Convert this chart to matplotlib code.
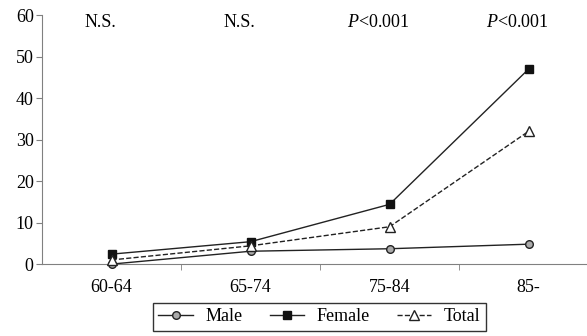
import matplotlib.pyplot as plt
import numpy as np

plt.rcParams['font.family'] = ['Liberation Serif', 'DejaVu Serif']
plt.rcParams['font.size'] = 13
plt.rcParams['mathtext.fontset'] = 'custom'
plt.rcParams['mathtext.rm'] = 'Liberation Serif'
plt.rcParams['mathtext.it'] = 'Liberation Serif:italic'

groups = ['60-64', '65-74', '75-84', '85-']
male = [0.0, 3.1, 3.7, 4.8]
female = [2.4, 5.4, 14.4, 47.0]
total = [1.0, 4.4, 9.0, 32.0]
sig = ['N.S.', 'N.S.', '$\\mathit{P}$<0.001', '$\\mathit{P}$<0.001']

fig = plt.figure(figsize=(5.87, 3.36), dpi=100)
ax = fig.add_axes([0.0716, 0.214, 1 - 0.0716, 0.741])

x = np.arange(len(groups))
l1, = ax.plot(x, male, '-', color='#222222', lw=1, marker='o', ms=5.5,
              mfc='#aaaaaa', mec='#222222', mew=1, clip_on=False, zorder=3)
l2, = ax.plot(x, female, '-', color='#222222', lw=1, marker='s', ms=6,
              mfc='#111111', mec='#111111', clip_on=False, zorder=3)
l3, = ax.plot(x, total, '--', color='#222222', lw=1, marker='^', ms=7,
              mfc='white', mec='#222222', mew=1, clip_on=False, zorder=3)

for i, s in enumerate(sig):
    ax.text(i - 0.08, 58.3, s, ha='center', va='center')

ax.set_xlim(-0.5, 3.42)
ax.set_ylim(0, 60)
ax.set_yticks(range(0, 61, 10))
ax.set_xticks(x)
ax.set_xticklabels(groups)
ax.set_xticks([0.5, 1.5, 2.5], minor=True)
ax.tick_params(axis='x', which='major', length=0, pad=11)
ax.tick_params(axis='x', which='minor', length=4, color='#808080')
ax.tick_params(axis='y', length=4, color='#808080', pad=2)
for s in ['top', 'right']:
    ax.spines[s].set_visible(False)
for s in ['left', 'bottom']:
    ax.spines[s].set_color('#808080')

leg = fig.legend([l1, l2, l3], ['Male', 'Female', 'Total'], ncol=3,
                 loc='upper left', bbox_to_anchor=(153 / 587, 1 - 303 / 336),
                 borderaxespad=0, frameon=True, fancybox=False,
                 edgecolor='black', borderpad=0.3, handlelength=1.9,
                 columnspacing=1.5, handletextpad=0.7)
leg.get_frame().set_linewidth(1)

fig.savefig('out.png', dpi=100)
